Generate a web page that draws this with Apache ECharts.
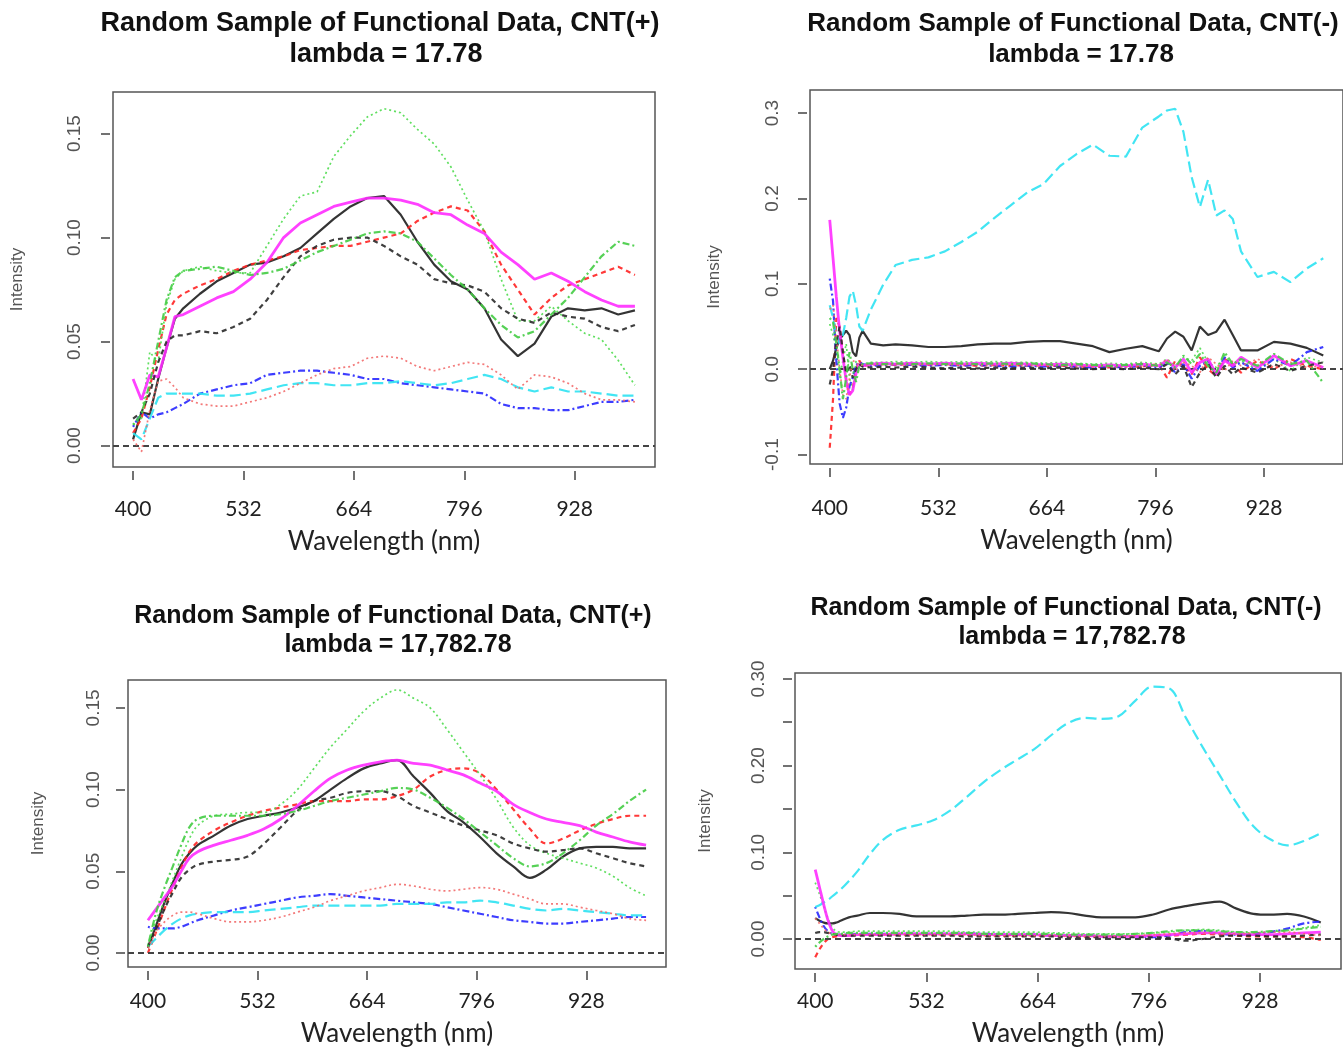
<!DOCTYPE html>
<html>
<head>
<meta charset="utf-8">
<title>Random Sample of Functional Data</title>
<script src="https://cdn.jsdelivr.net/npm/echarts@6/dist/echarts.min.js"></script>
<style>
  html, body { margin: 0; padding: 0; background: #fff; }
  #chart { width: 1343px; height: 1048px; }
</style>
</head>
<body>
<div id="chart"></div>
<script>
// wavelength grids (nm)
const waveA = [400,410,420,430,440,450,460,480,500,520,540,560,580,600,620,640,660,680,700,720,740,760,780,800,820,840,860,880,900,920,940,960,980,1000];
const waveB = [400,404,408,412,416,420,424,428,432,436,440,450,465,480,500,520,540,560,580,600,620,640,660,680,700,720,740,760,780,800,810,820,830,840,850,860,870,880,890,900,920,940,960,980,1000];
const waveD = [400,405,410,415,420,425,430,440,450,465,480,500,520,540,560,580,600,620,640,660,680,700,720,740,760,780,800,820,840,860,880,900,920,940,960,980,1000];

// tick labels
const xTicks = [400, 532, 664, 796, 928];
const yTicksPos = [0, 0.05, 0.10, 0.15];
const yTicksNegRaw = [-0.1, 0, 0.1, 0.2, 0.3];
const yTicksNegSmooth = [0, 0.05, 0.10, 0.15, 0.20, 0.25, 0.30];
const yLabelsNegSmooth = [0, 0.10, 0.20, 0.30];

// titles
const titleLine1 = ['Random Sample of Functional Data, CNT(+)', 'Random Sample of Functional Data, CNT(-)',
                    'Random Sample of Functional Data, CNT(+)', 'Random Sample of Functional Data, CNT(-)'];
const titleLine2 = ['lambda = 17.78', 'lambda = 17.78', 'lambda = 17,782.78', 'lambda = 17,782.78'];

// ---- CNT(+), lambda = 17.78 ----
const p1Black     = [0.003,0.016,0.015,0.032,0.047,0.061,0.066,0.073,0.079,0.083,0.087,0.088,0.091,0.095,0.102,0.109,0.115,0.119,0.120,0.111,0.098,0.087,0.079,0.075,0.066,0.051,0.043,0.049,0.062,0.066,0.065,0.066,0.063,0.065];
const p1Red       = [0.006,0.013,0.028,0.046,0.063,0.070,0.073,0.077,0.080,0.084,0.087,0.089,0.091,0.094,0.095,0.096,0.096,0.098,0.100,0.102,0.108,0.112,0.115,0.113,0.103,0.087,0.075,0.063,0.071,0.077,0.080,0.083,0.086,0.082];
const p1Green     = [0.010,0.013,0.045,0.040,0.068,0.080,0.084,0.086,0.084,0.083,0.083,0.096,0.109,0.120,0.122,0.139,0.149,0.158,0.162,0.160,0.152,0.145,0.134,0.118,0.103,0.080,0.060,0.060,0.067,0.060,0.054,0.051,0.041,0.029];
const p1Blue      = [0.009,0.016,0.013,0.015,0.016,0.018,0.020,0.025,0.027,0.029,0.030,0.034,0.035,0.036,0.036,0.035,0.034,0.032,0.032,0.030,0.029,0.028,0.027,0.026,0.025,0.020,0.018,0.018,0.017,0.017,0.019,0.021,0.021,0.022];
const p1Cyan      = [0.006,0.003,0.013,0.023,0.025,0.025,0.025,0.025,0.024,0.024,0.025,0.027,0.029,0.030,0.030,0.029,0.029,0.030,0.030,0.031,0.030,0.029,0.030,0.032,0.034,0.032,0.028,0.026,0.028,0.026,0.026,0.025,0.024,0.024];
const p1Magenta   = [0.032,0.022,0.034,0.033,0.047,0.062,0.063,0.067,0.071,0.074,0.080,0.088,0.100,0.107,0.111,0.115,0.117,0.119,0.119,0.118,0.116,0.112,0.111,0.106,0.102,0.093,0.087,0.080,0.083,0.079,0.074,0.070,0.067,0.067];
const p1BlackDash = [0.013,0.016,0.025,0.040,0.050,0.053,0.053,0.055,0.054,0.057,0.061,0.070,0.081,0.091,0.096,0.099,0.100,0.100,0.096,0.091,0.087,0.080,0.078,0.077,0.074,0.066,0.061,0.059,0.064,0.062,0.061,0.057,0.055,0.058];
const p1RedDot    = [0.003,-0.003,0.017,0.031,0.032,0.028,0.023,0.020,0.019,0.019,0.021,0.023,0.026,0.030,0.034,0.037,0.038,0.042,0.043,0.042,0.038,0.036,0.038,0.040,0.039,0.034,0.027,0.034,0.033,0.030,0.025,0.022,0.022,0.021];
const p1GreenDD   = [0.010,0.015,0.030,0.050,0.070,0.081,0.084,0.085,0.086,0.084,0.082,0.083,0.085,0.089,0.093,0.096,0.099,0.102,0.103,0.102,0.098,0.090,0.082,0.075,0.066,0.058,0.052,0.055,0.063,0.071,0.081,0.091,0.098,0.096];

// ---- CNT(-), lambda = 17.78 ----
const p2Black     = [0.000,0.010,0.025,0.035,0.040,0.045,0.040,0.020,0.015,0.037,0.045, 0.030,0.028,0.029,
                     0.028,0.026,0.026,0.027,0.029,0.030,0.030,0.032,0.033,0.033,0.030,0.027,0.020,0.024,0.027,0.021,
                     0.036,0.044,0.038,0.022,0.050,0.040,0.044,0.058,0.040,0.022, 0.022,0.032,0.030,0.025,0.016];
const p2Red       = [-0.092,-0.035,0.060,0.050,0.020,-0.012,-0.030,-0.022,0.000,0.010,0.004, 0.005,0.006,0.005,
                     0.006,0.005,0.006,0.005,0.004,0.005,0.004,0.005,0.004,0.004,0.003,0.003,0.002,0.004,0.003,0.006,
                     -0.010,0.010,0.004,-0.006,0.014,0.000,-0.008,0.012,0.006,-0.004, 0.010,0.000,0.012,0.004,0.000];
const p2Green     = [0.053,0.040,0.020,-0.010,0.010,0.030,-0.010,-0.025,0.010,0.004,0.006, 0.008,0.008,0.009,
                     0.008,0.009,0.008,0.009,0.008,0.009,0.008,0.008,0.007,0.008,0.007,0.006,0.007,0.006,0.008,0.006,
                     0.012,0.004,0.014,0.010,0.025,0.008,0.002,0.016,0.004,0.010, 0.000,0.012,-0.002,0.014,0.008];
const p2Blue      = [0.106,0.080,0.010,-0.040,-0.057,-0.045,-0.020,-0.010,0.005,0.008,0.006, 0.004,0.005,0.006,
                     0.005,0.004,0.005,0.004,0.005,0.004,0.003,0.004,0.003,0.004,0.003,0.002,0.003,0.002,0.004,0.002,
                     0.008,-0.004,0.006,-0.011,0.004,0.010,-0.006,0.014,0.002,0.008, -0.002,0.012,0.004,0.020,0.026];
const p2Cyan      = [0.075,0.060,0.040,0.030,0.040,0.060,0.085,0.092,0.075,0.050,0.045, 0.070,0.099,0.122,
                     0.128,0.131,0.138,0.149,0.161,0.177,0.192,0.207,0.217,0.238,0.252,0.263,0.250,0.249,0.283,0.296,
                     0.303,0.305,0.278,0.225,0.190,0.222,0.180,0.186,0.176,0.138, 0.108,0.114,0.102,0.118,0.130];
const p2Magenta   = [0.175,0.130,0.085,0.045,0.014,-0.014,-0.030,-0.025,-0.005,0.006,0.004, 0.006,0.007,0.006,
                     0.007,0.006,0.007,0.006,0.007,0.006,0.007,0.006,0.005,0.006,0.005,0.004,0.005,0.004,0.006,0.004,
                     0.010,0.002,0.012,-0.004,0.008,0.012,-0.006,0.010,0.004,0.014, 0.002,0.016,0.004,0.010,0.002];
const p2BlackDash = [-0.018,0.000,0.030,0.050,0.020,-0.005,0.005,-0.010,0.000,0.006,0.003, 0.002,0.003,0.002,
                     0.003,0.002,0.001,0.002,0.001,0.002,0.001,0.002,0.001,0.002,0.001,0.000,0.001,0.000,0.002,0.000,
                     0.006,-0.006,0.004,-0.021,-0.004,0.006,-0.010,0.004,-0.006,0.002, -0.004,0.006,-0.002,0.004,0.008];
const p2RedDot    = [0.070,0.075,0.040,0.000,-0.030,-0.035,-0.010,0.010,0.008,0.004,0.005, 0.006,0.005,0.006,
                     0.005,0.006,0.005,0.006,0.005,0.004,0.005,0.004,0.005,0.004,0.003,0.004,0.003,0.002,0.003,0.004,
                     0.012,-0.002,0.008,0.004,-0.004,0.014,0.006,-0.002,0.010,0.004, 0.012,0.002,0.008,0.002,0.004];
const p2GreenDD   = [0.060,0.055,0.030,0.000,-0.035,-0.010,0.020,0.000,-0.015,0.004,0.006, 0.007,0.006,0.007,
                     0.006,0.007,0.006,0.007,0.006,0.007,0.006,0.007,0.006,0.005,0.006,0.005,0.004,0.005,0.006,0.004,
                     0.008,0.002,0.016,0.006,0.018,0.004,-0.004,0.020,0.006,0.012, 0.004,0.018,0.006,0.010,-0.016];

// ---- CNT(+), lambda = 17,782.78 ----
const p3Black     = [0.003,0.017,0.031,0.043,0.054,0.061,0.066,0.072,0.078,0.082,0.084,0.086,0.089,0.093,0.100,0.107,0.113,0.116,0.118,0.108,0.098,0.087,0.080,0.071,0.061,0.053,0.046,0.051,0.059,0.064,0.065,0.065,0.064,0.064];
const p3Red       = [0.000,0.013,0.027,0.040,0.052,0.062,0.068,0.075,0.080,0.084,0.087,0.089,0.091,0.093,0.093,0.093,0.094,0.094,0.096,0.100,0.108,0.112,0.113,0.110,0.100,0.088,0.076,0.067,0.070,0.075,0.079,0.082,0.084,0.084];
const p3Green     = [0.005,0.020,0.032,0.045,0.058,0.070,0.078,0.084,0.085,0.086,0.086,0.091,0.100,0.113,0.126,0.137,0.148,0.156,0.161,0.156,0.150,0.137,0.123,0.109,0.094,0.077,0.066,0.061,0.058,0.055,0.052,0.047,0.040,0.035];
const p3Blue      = [0.016,0.015,0.015,0.015,0.016,0.018,0.020,0.023,0.026,0.028,0.030,0.032,0.034,0.035,0.036,0.035,0.034,0.033,0.032,0.031,0.030,0.028,0.026,0.024,0.022,0.020,0.019,0.018,0.018,0.019,0.020,0.021,0.022,0.022];
const p3Cyan      = [0.004,0.009,0.014,0.018,0.021,0.023,0.024,0.025,0.025,0.025,0.026,0.027,0.028,0.029,0.029,0.029,0.029,0.029,0.030,0.030,0.030,0.031,0.031,0.032,0.031,0.029,0.027,0.026,0.027,0.026,0.025,0.024,0.023,0.023];
const p3Magenta   = [0.020,0.027,0.034,0.041,0.050,0.058,0.062,0.066,0.069,0.072,0.076,0.082,0.090,0.099,0.107,0.112,0.115,0.117,0.118,0.116,0.115,0.112,0.109,0.104,0.099,0.091,0.086,0.082,0.080,0.078,0.074,0.071,0.068,0.066];
const p3BlackDash = [0.004,0.015,0.027,0.037,0.046,0.051,0.054,0.056,0.057,0.059,0.067,0.077,0.087,0.093,0.095,0.098,0.099,0.099,0.096,0.090,0.086,0.082,0.078,0.075,0.072,0.067,0.064,0.062,0.063,0.064,0.061,0.058,0.055,0.053];
const p3RedDot    = [0.003,0.013,0.019,0.023,0.025,0.025,0.024,0.021,0.019,0.019,0.020,0.022,0.025,0.028,0.032,0.035,0.038,0.040,0.042,0.041,0.039,0.038,0.039,0.040,0.039,0.036,0.033,0.030,0.030,0.028,0.026,0.024,0.021,0.020];
const p3GreenDD   = [0.004,0.025,0.040,0.053,0.066,0.077,0.082,0.084,0.084,0.084,0.084,0.085,0.087,0.090,0.093,0.095,0.097,0.099,0.101,0.100,0.095,0.089,0.082,0.074,0.066,0.058,0.053,0.055,0.061,0.069,0.078,0.085,0.093,0.100];

// ---- CNT(-), lambda = 17,782.78 ----
const p4Black     = [0.024,0.021,0.019,0.018,0.018,0.019,0.021,0.025,0.027,0.030,0.030,
                     0.029,0.026,0.026,0.026,0.027,0.028,0.028,0.029,0.030,0.031,0.030,0.027,0.025,0.025,0.025,0.028,0.034,0.038,0.041,0.043,0.035,0.029,0.028,0.029,0.026,0.019];
const p4Red       = [-0.021,-0.012,-0.005,0.000,0.002,0.003,0.004,0.004,0.005,0.005,0.005,
                     0.005,0.005,0.005,0.005,0.005,0.004,0.004,0.004,0.004,0.004,0.004,0.003,0.003,0.003,0.003,0.004,0.004,0.005,0.006,0.005,0.004,0.003,0.003,0.003,0.002,-0.001];
const p4Green     = [0.065,0.052,0.038,0.024,0.014,0.009,0.008,0.008,0.009,0.009,0.009,
                     0.009,0.009,0.009,0.009,0.008,0.008,0.008,0.008,0.008,0.007,0.007,0.006,0.006,0.006,0.006,0.007,0.008,0.010,0.011,0.010,0.008,0.007,0.008,0.010,0.013,0.016];
const p4Blue      = [0.037,0.025,0.015,0.009,0.006,0.005,0.005,0.005,0.006,0.006,0.006,
                     0.006,0.006,0.006,0.006,0.006,0.006,0.005,0.005,0.005,0.004,0.004,0.004,0.003,0.003,0.003,0.002,0.004,0.008,0.009,0.006,0.005,0.006,0.008,0.012,0.018,0.020];
const p4Cyan      = [0.037,0.039,0.042,0.045,0.049,0.053,0.057,0.067,0.078,0.098,0.114,
                     0.126,0.131,0.137,0.148,0.164,0.181,0.195,0.207,0.219,0.235,0.249,0.255,0.254,0.257,0.275,0.291,0.289,0.255,0.221,0.189,0.157,0.130,0.115,0.108,0.113,0.122];
const p4Magenta   = [0.080,0.060,0.040,0.022,0.010,0.005,0.004,0.004,0.005,0.005,0.005,
                     0.006,0.006,0.006,0.006,0.006,0.005,0.005,0.005,0.005,0.004,0.004,0.004,0.003,0.003,0.003,0.004,0.005,0.006,0.007,0.007,0.006,0.005,0.005,0.006,0.007,0.008];
const p4BlackDash = [0.007,0.008,0.008,0.007,0.006,0.005,0.004,0.004,0.004,0.004,0.004,
                     0.004,0.004,0.004,0.004,0.003,0.003,0.003,0.003,0.003,0.003,0.002,0.002,0.002,0.002,0.002,0.002,0.001,-0.002,0.000,0.003,0.004,0.004,0.003,0.003,0.004,0.005];
const p4RedDot    = [0.024,0.018,0.012,0.008,0.006,0.005,0.005,0.005,0.005,0.005,0.005,
                     0.005,0.005,0.005,0.005,0.005,0.004,0.004,0.004,0.004,0.004,0.003,0.003,0.003,0.003,0.004,0.005,0.006,0.007,0.007,0.006,0.006,0.007,0.008,0.008,0.006,0.004];
const p4GreenDD   = [-0.009,-0.004,0.000,0.003,0.005,0.006,0.006,0.007,0.007,0.007,0.007,
                     0.007,0.007,0.007,0.007,0.007,0.006,0.006,0.006,0.006,0.006,0.005,0.005,0.005,0.005,0.006,0.007,0.009,0.010,0.010,0.009,0.008,0.008,0.009,0.010,0.012,0.014];

// line colours / types in the order the curves were drawn
const curveStyles = [
  { color: '#1e1e1e', type: 'solid',        width: 2.2 },  // black
  { color: '#ff2424', type: [5, 4],         width: 2.2 },  // red dashed
  { color: '#4fdc4f', type: [2, 3],         width: 1.7 },  // green dotted
  { color: '#2828ff', type: [2, 3, 7, 3],   width: 2.2 },  // blue dot-dash
  { color: '#2ee2f2', type: [11, 5],        width: 2.2 },  // cyan long dash
  { color: '#ff2cff', type: 'solid',        width: 2.8 },  // magenta
  { color: '#2a2a2a', type: [5, 4],         width: 2.2 },  // black dashed
  { color: '#f26a6a', type: [2, 3],         width: 1.7 },  // red dotted
  { color: '#44cc44', type: [2, 3, 7, 3],   width: 2.2 }   // green dot-dash
];

const panels = [
  { x: waveA, smooth: false, curves: [p1Black, p1Red, p1Green, p1Blue, p1Cyan, p1Magenta, p1BlackDash, p1RedDot, p1GreenDD] },
  { x: waveB, smooth: false, curves: [p2Black, p2Red, p2Green, p2Blue, p2Cyan, p2Magenta, p2BlackDash, p2RedDot, p2GreenDD] },
  { x: waveA, smooth: true,  curves: [p3Black, p3Red, p3Green, p3Blue, p3Cyan, p3Magenta, p3BlackDash, p3RedDot, p3GreenDD] },
  { x: waveD, smooth: true,  curves: [p4Black, p4Red, p4Green, p4Blue, p4Cyan, p4Magenta, p4BlackDash, p4RedDot, p4GreenDD] }
];

// layout of each plot box
const boxes = [
  { left: 113, top: 92,  width: 542, height: 375, ymin: -0.0103, ymax: 0.170,  yt: yTicksPos,       yl: yTicksPos,        dec: 2, lm: 26, ng: 84, xm: 28, xg: 58 },
  { left: 810, top: 90,  width: 537, height: 374, ymin: -0.111,  ymax: 0.327,  yt: yTicksNegRaw,    yl: yTicksNegRaw,     dec: 1, lm: 25, ng: 84, xm: 30, xg: 60 },
  { left: 128, top: 680, width: 538, height: 287, ymin: -0.0086, ymax: 0.1671, yt: yTicksPos,       yl: yTicksPos,        dec: 2, lm: 22, ng: 78, xm: 20, xg: 50 },
  { left: 795, top: 673, width: 546, height: 296, ymin: -0.0346, ymax: 0.3068, yt: yTicksNegSmooth, yl: yLabelsNegSmooth, dec: 2, lm: 24, ng: 78, xm: 18, xg: 48 }
];

const titlePos = [
  [380, 24, 386, 55, 27],
  [1073, 24, 1081, 55, 26],
  [393, 616, 398, 645, 25],
  [1066, 608, 1072, 637, 25]
];

const chart = echarts.init(document.getElementById('chart'), null, { renderer: 'canvas' });

const grid = boxes.map(b => ({
  left: b.left, top: b.top, width: b.width, height: b.height,
  show: true, borderColor: '#555', borderWidth: 1.5, backgroundColor: 'transparent'
}));

const xAxis = boxes.map((b, i) => ({
  gridIndex: i, type: 'value', min: 376, max: 1024, offset: 4, position: 'bottom',
  axisLine: { show: false, onZero: false }, splitLine: { show: false },
  axisTick: { show: true, length: 9, customValues: xTicks, lineStyle: { color: '#444', width: 1.5 } },
  axisLabel: { customValues: xTicks, margin: b.xm, fontFamily: 'Lato', fontSize: 21, color: '#222' },
  name: 'Wavelength (nm)', nameLocation: 'middle', nameGap: b.xg,
  nameTextStyle: { fontFamily: 'Lato', fontSize: 26, color: '#222' }
}));

const yAxis = boxes.map((b, i) => ({
  gridIndex: i, type: 'value', min: b.ymin, max: b.ymax, offset: 3, position: 'left',
  axisLine: { show: false, onZero: false }, splitLine: { show: false },
  axisTick: { show: true, length: 9, customValues: b.yt, lineStyle: { color: '#444', width: 1.5 } },
  axisLabel: {
    customValues: b.yl, rotate: 90, margin: b.lm,
    fontFamily: 'Liberation Sans', fontSize: 19, color: '#555',
    formatter: v => Number(v).toFixed(b.dec)
  },
  name: 'Intensity', nameLocation: 'middle', nameGap: b.ng, nameRotate: 90,
  nameTextStyle: { fontFamily: 'Liberation Sans', fontSize: 17, color: '#555' }
}));

const series = [];
panels.forEach((p, pi) => {
  p.curves.forEach((ys, ci) => {
    const st = curveStyles[ci];
    const s = {
      type: 'line', xAxisIndex: pi, yAxisIndex: pi,
      data: p.x.map((x, k) => [x, ys[k]]),
      symbol: 'none', showSymbol: false, silent: true,
      smooth: p.smooth ? 0.35 : false,
      lineStyle: { color: st.color, type: st.type, width: st.width, opacity: 0.9 },
      z: 3 + ci
    };
    if (ci === 0) {
      s.markLine = {
        silent: true, symbol: 'none', label: { show: false },
        lineStyle: { color: '#444', type: [6, 4], width: 2.2 },
        data: [{ yAxis: 0 }]
      };
    }
    series.push(s);
  });
});

const graphic = [];
titlePos.forEach((tp, i) => {
  const font = 'bold ' + tp[4] + 'px "Liberation Sans"';
  graphic.push({ type: 'text', x: tp[0], y: tp[1],
    style: { text: titleLine1[i], font, fill: '#111', align: 'center', verticalAlign: 'middle' } });
  graphic.push({ type: 'text', x: tp[2], y: tp[3],
    style: { text: titleLine2[i], font, fill: '#111', align: 'center', verticalAlign: 'middle' } });
});

chart.setOption({
  animation: false,
  backgroundColor: '#fff',
  grid, xAxis, yAxis, series, graphic
});
</script>
</body>
</html>
